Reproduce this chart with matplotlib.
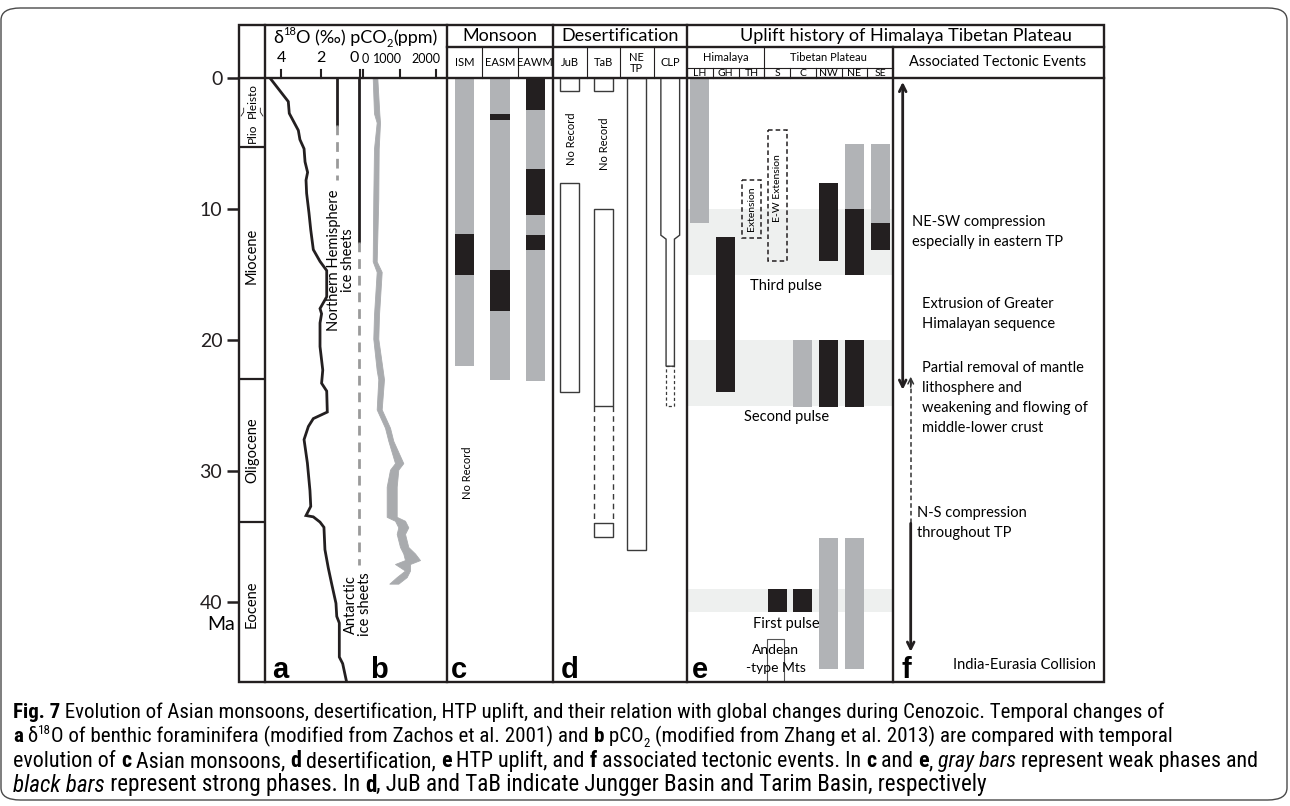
import matplotlib

matplotlib.use("Agg")
import matplotlib.pyplot as plt
from matplotlib import font_manager
from matplotlib.font_manager import FontProperties
from matplotlib.patches import Rectangle, FancyBboxPatch, Polygon


W, H = 1290, 806
TOP, BOTTOM = 78, 682
PX_PER_MA = 13.1
AGE_MAX = (BOTTOM - TOP) / PX_PER_MA

# ---- time scale ----
AGE_TICKS = [0, 10, 20, 30, 40]
EPOCH_BOUNDS = [5.3, 23.0, 33.9]
EPOCH_NAMES = ["Miocene", "Oligocene", "Eocene"]
EPOCH_LABEL_AGES = [13.6, 28.4, 40.2]

# ---- panel a: benthic d18O (per mil) ----
D18O_AGE = [0.0, 1.8, 2.7, 4.0, 4.7, 5.4, 6.4, 7.2, 7.8, 8.8, 10.3, 11.6, 13.1, 14.0,
            14.7, 16.7, 17.6, 18.0, 18.7, 20.5, 22.3, 23.3, 23.9, 25.5, 26.0, 26.6,
            27.6, 29.4, 31.5, 32.7, 33.4, 33.5, 33.9, 34.3, 36.0, 37.4, 38.6, 40.1,
            41.1, 41.6, 44.2, 44.7, 46.1]
D18O_VAL = [4.57, 3.64, 3.59, 3.13, 3.05, 2.84, 2.79, 2.66, 2.74, 2.71, 2.59, 2.50,
            2.37, 2.03, 1.69, 1.69, 2.03, 1.95, 2.03, 2.03, 1.89, 1.95, 1.69, 1.66,
            2.37, 2.62, 2.84, 2.67, 2.54, 2.50, 2.74, 2.37, 2.03, 1.83, 1.78, 1.61,
            1.44, 1.22, 1.18, 1.05, 1.05, 0.88, 0.68]
D18O_TICKS = [4, 2, 0]
NH_ICE = (1.17, 3.6, 7.8)        # d18O position, solid until, dashed until (Ma)
ANT_ICE = (0.05, 12.5, 37.2)

# ---- panel b: pCO2 (ppm) band ----
PCO2_AGE = [0.0, 2.7, 3.4, 5.4, 9.2, 14.0, 14.8, 18.1, 19.9, 22.3, 23.0, 25.3, 26.7,
            27.7, 29.4, 29.9, 31.2, 33.5, 33.8, 34.3, 34.8, 35.8, 36.3, 36.8, 37.1,
            37.6, 38.1, 38.6]
PCO2_LOW = [266, 301, 375, 301, 282, 266, 375, 301, 282, 375, 419, 375, 603, 694,
            877, 740, 649, 649, 877, 967, 923, 1014, 1104, 1151, 877, 1151, 923, 721]
PCO2_HIGH = [392, 447, 466, 430, 419, 375, 512, 438, 419, 540, 575, 512, 740, 830,
             1104, 967, 923, 923, 1151, 1241, 1151, 1241, 1425, 1562, 1288, 1288,
             1197, 967]
PCO2_TICKS = [0, 1000, 2000]

# ---- panel c: monsoons ----
MONSOON_COLS = ["ISM", "EASM", "EAWM"]
MONSOON_WEAK = [("ISM", 0, 22.0), ("EASM", 0, 23.05), ("EAWM", 0, 23.1)]
MONSOON_STRONG = [("ISM", 11.9, 15.0), ("EASM", 2.75, 3.2), ("EASM", 14.65, 17.75),
                  ("EAWM", 0, 2.45), ("EAWM", 6.95, 10.45), ("EAWM", 12.0, 13.1)]

# ---- panel d: desertification ----
DESERT_COLS = ["JuB", "TaB", "NE\nTP", "CLP"]
DESERT_RECORD = [("JuB", 0, 1.0), ("JuB", 8.05, 24.0), ("TaB", 0, 1.0),
                 ("TaB", 10.0, 25.0), ("TaB", 34.0, 35.0), ("NE\nTP", 0, 36.0)]
DESERT_UNCERTAIN_SIDES = [("TaB", 25.0, 34.0)]
DESERT_UNCERTAIN_BOX = [("CLP", 22.0, 25.0)]
CLP_WIDE = (0, 12.0)
CLP_NARROW = (12.3, 22.0)
NO_RECORD_D = [("JuB", 4.6), ("TaB", 5.0)]

# ---- panel e: uplift ----
UPLIFT_COLS = ["LH", "GH", "TH", "S", "C", "NW", "NE", "SE"]
UPLIFT_WEAK = [("LH", 0, 11.05), ("C", 20.0, 25.1), ("NW", 35.1, 45.1),
               ("NE", 5.0, 10.0), ("NE", 35.1, 45.1), ("SE", 5.0, 11.1)]
UPLIFT_STRONG = [("GH", 12.1, 24.0), ("NW", 8.0, 14.0), ("NW", 20.0, 25.1),
                 ("NE", 10.0, 15.05), ("NE", 20.0, 25.1), ("SE", 11.1, 13.1),
                 ("S", 39.0, 40.8), ("C", 39.0, 40.8)]
EXTENSIONS = [("TH", 7.8, 12.2, "Extension", 10.0), ("S", 4.0, 14.0, "E-W Extension", 8.4)]
PULSES = [(10.0, 15.0, "Third pulse"), (20.0, 25.0, "Second pulse"), (39.0, 40.8, "First pulse")]
ANDEAN = (42.8, AGE_MAX)

# ---- panel f: tectonic events ----
NESW_ARROW = (0.3, 23.8)
NS_ARROW = (22.8, 34.0, 43.8)   # head up, dashed until, head down
EVENT_TEXTS = [
    (11.0, 911.7, ["NE-SW compression", "especially in eastern TP"]),
    (17.25, 922.3, ["Extrusion of Greater", "Himalayan sequence"]),
    (22.1, 922.3, ["Partial removal of mantle", "lithosphere and",
                   "weakening and flowing of", "middle-lower crust"]),
    (33.2, 917.3, ["N-S compression", "throughout TP"]),
]

GRAY_BAR = "#b1b3b6"
BLACK_BAR = "#231f20"
BAND = "#eef0ef"
PCO2_COLOR = "#a9abae"
LINE = "#231f20"

BODY = ["Lato", "DejaVu Sans"]
LETTER = ["Liberation Sans", "DejaVu Sans"]

# caption: a condensed face if one is installed
entries = font_manager.fontManager.ttflist
CAP_FONT, CAP_STRETCH = "Roboto", "normal"
for name in ["Liberation Sans Narrow", "Roboto Condensed", "Noto Sans", "Open Sans",
             "Roboto", "DejaVu Sans", "Liberation Sans"]:
    hit = [f for f in entries if f.name == name and "condensed" in str(f.stretch)]
    if hit:
        CAP_FONT, CAP_STRETCH = name, hit[0].stretch
        break
    if name == "Liberation Sans Narrow" and any(f.name == name for f in entries):
        CAP_FONT, CAP_STRETCH = name, "normal"
        break
CAPTION = [CAP_FONT, "DejaVu Sans"]

plt.rcParams["font.family"] = BODY

fig = plt.figure(figsize=(W / 100, H / 100), dpi=100)
fig.patch.set_facecolor("white")


def fx(px):
    return px / W


def fy(py):
    return 1 - py / H


def panel_ax(x0, x1, xlim, zorder=2):
    ax = fig.add_axes([fx(x0), fy(BOTTOM), fx(x1) - fx(x0), (BOTTOM - TOP) / H], zorder=zorder)
    ax.set_xlim(*xlim)
    ax.set_ylim(AGE_MAX, 0)
    ax.axis("off")
    return ax


# ---- rounded outer frame ----
fig.patches.append(FancyBboxPatch((fx(1), fy(800)), fx(1287) - fx(1), fy(8) - fy(800),
                                  boxstyle="round,pad=0,rounding_size=0.015",
                                  transform=fig.transFigure, fill=False,
                                  ec="#4a4a4a", lw=1.0))

# ---- epoch column ----
ax_ep = panel_ax(239, 265, (0, 1))
ax_ep.axis("on")
for s in ax_ep.spines.values():
    s.set_visible(False)
ax_ep.set_xticks([])
ax_ep.set_yticks(AGE_TICKS)
ax_ep.tick_params(axis="y", direction="out", length=9, width=1.8, labelsize=14, pad=3,
                  color=LINE, labelcolor="#231f20")
ax_ep.patch.set_visible(False)
for b in EPOCH_BOUNDS:
    ax_ep.axhline(b, color=LINE, lw=1.6)
for name, age in zip(EPOCH_NAMES, EPOCH_LABEL_AGES):
    ax_ep.text(0.5, age, name, rotation=90, ha="center", va="center", fontsize=10.5)
ax_ep.text(0.5, 1.7, "Pleisto", rotation=90, ha="center", va="center", fontsize=8.5)
ax_ep.text(0.5, 4.2, "Plio", rotation=90, ha="center", va="center", fontsize=8.5)
ax_ep.plot([0.08, 0.18, 0.18], [2.9, 2.6, 2.3], color=LINE, lw=0.6)
ax_ep.plot([0.92, 0.82, 0.82], [2.9, 2.6, 2.3], color=LINE, lw=0.6)
fig.text(fx(221), fy(625), "Ma", ha="center", va="center", fontsize=14)

# ---- panel a ----
ax_a = panel_ax(265, 447, ((360 - 265) / 19.7, (360 - 447) / 19.7), zorder=3)
ax_a.plot(D18O_VAL, D18O_AGE, color=LINE, lw=2.0, solid_joinstyle="miter")
for pos, solid_to, dash_to in (NH_ICE, ANT_ICE):
    ax_a.plot([pos, pos], [0, solid_to], color=LINE, lw=2.0)
    ax_a.plot([pos, pos], [solid_to, dash_to], color="#9a9a9a", lw=2.0, ls=(0, (3.5, 2.5)))
ax_a.text(0.96, 13.9, "Northern Hemisphere\nice sheets", rotation=90, ha="center",
          va="center", multialignment="center", fontsize=10.5, linespacing=1.0)
ax_a.text(0.1, 40.2, "Antarctic\nice sheets", rotation=90, ha="center", va="center",
          multialignment="center", fontsize=10.5, linespacing=1.0)

# ---- panel b ----
ax_b = panel_ax(265, 447, ((265 - 363) / 36.5 * 1000, (447 - 363) / 36.5 * 1000))
ax_b.fill_betweenx(PCO2_AGE, PCO2_LOW, PCO2_HIGH, color=PCO2_COLOR, lw=0.6, ec=PCO2_COLOR)

# header ticks for a / b
ta = matplotlib.transforms.blended_transform_factory(ax_a.transData, fig.transFigure)
tb = matplotlib.transforms.blended_transform_factory(ax_b.transData, fig.transFigure)
for v in D18O_TICKS:
    ax_a.plot([v, v], [fy(70), fy(78)], transform=ta, color=LINE, lw=1.5, clip_on=False)
    ax_a.text(v + (0.05 if v == 0 else 0), fy(58), str(v), transform=ta,
              ha="right" if v == 0 else "center", va="center", fontsize=11.5)
for v in PCO2_TICKS:
    ax_b.plot([v, v], [fy(70), fy(78)], transform=tb, color=LINE, lw=1.5, clip_on=False)
    if v == 0:
        ax_b.text(v - 30, fy(59), str(v), transform=tb, ha="left", va="center", fontsize=9)
    else:
        ax_b.text(v + (70 if v == 1000 else 130), fy(59), str(v), transform=tb, ha="right",
                  va="center", fontsize=9)

# ---- panel c ----
ax_c = panel_ax(447, 553, (0, len(MONSOON_COLS)))
for phases, color in ((MONSOON_WEAK, GRAY_BAR), (MONSOON_STRONG, BLACK_BAR)):
    for col, a0, a1 in phases:
        i = MONSOON_COLS.index(col)
        ax_c.bar(i + 0.5, a1 - a0, bottom=a0, width=0.54, color=color, lw=0)
ax_c.text(0.57, 30.1, "No Record", rotation=90, ha="center", va="center", fontsize=8)

# ---- panel d ----
ax_d = panel_ax(553, 687, (0, len(DESERT_COLS)))
BW = 0.56
for col, a0, a1 in DESERT_RECORD:
    i = DESERT_COLS.index(col)
    ax_d.add_patch(Rectangle((i + 0.5 - BW / 2, a0), BW, a1 - a0, fill=False, ec="#3a3a3a", lw=1.0))
for col, a0, a1 in DESERT_UNCERTAIN_SIDES:
    i = DESERT_COLS.index(col)
    for x in (i + 0.5 - BW / 2, i + 0.5 + BW / 2):
        ax_d.plot([x, x], [a0, a1], color="#3a3a3a", lw=1.0, ls=(0, (4, 3)))
for col, a0, a1 in DESERT_UNCERTAIN_BOX:
    i = DESERT_COLS.index(col)
    ax_d.add_patch(Rectangle((i + 0.5 - 0.125, a0), 0.25, a1 - a0, fill=False, ec="#3a3a3a",
                             lw=0.9, ls=(0, (2.5, 2))))
ci = DESERT_COLS.index("CLP") + 0.5
ax_d.add_patch(Polygon([(ci - BW / 2, CLP_WIDE[0]), (ci - BW / 2, CLP_WIDE[1]),
                        (ci - 0.125, CLP_NARROW[0]), (ci - 0.125, CLP_NARROW[1]),
                        (ci + 0.125, CLP_NARROW[1]), (ci + 0.125, CLP_NARROW[0]),
                        (ci + BW / 2, CLP_WIDE[1]), (ci + BW / 2, CLP_WIDE[0])],
                       closed=False, fill=False, ec="#3a3a3a", lw=1.0))
for col, age in NO_RECORD_D:
    ax_d.text(DESERT_COLS.index(col) + 0.55, age, "No Record", rotation=90, ha="center",
              va="center", fontsize=8)

# ---- panel e ----
ax_e = panel_ax(687, 893, (0, len(UPLIFT_COLS)))
EW = 0.74
for a0, a1, label in PULSES:
    ax_e.axhspan(a0, a1, color=BAND, lw=0, zorder=0)
    ax_e.text(3.85, a1 + 0.9, label, ha="center", va="center", fontsize=10.5, zorder=3)
for phases, color in ((UPLIFT_WEAK, GRAY_BAR), (UPLIFT_STRONG, BLACK_BAR)):
    for col, a0, a1 in phases:
        i = UPLIFT_COLS.index(col)
        ax_e.bar(i + 0.5, a1 - a0, bottom=a0, width=EW, color=color, lw=0, zorder=2)
for col, a0, a1, label, tage in EXTENSIONS:
    i = UPLIFT_COLS.index(col)
    ax_e.add_patch(Rectangle((i + 0.5 - EW / 2, a0), EW, a1 - a0, fill=False, ec=LINE,
                             lw=1.1, ls=(0, (3, 2)), zorder=2))
    ax_e.text(i + 0.5, tage, label, rotation=90, ha="center", va="center", fontsize=7.5)
si = UPLIFT_COLS.index("S")
ax_e.add_patch(Rectangle((si + 0.45 - 0.33, ANDEAN[0]), 0.66, ANDEAN[1] - ANDEAN[0],
                         fill=False, ec="#555555", lw=0.8, zorder=2))
ax_e.text(si + 0.45, 43.7, "Andean", ha="center", va="center", fontsize=10, zorder=3)
ax_e.text(si + 0.45, 45.0, "-type Mts", ha="center", va="center", fontsize=10, zorder=3)

# ---- panel f ----
ax_f = panel_ax(893, 1104, (893, 1104))
ax_f.annotate("", xy=(902.7, NESW_ARROW[0]), xytext=(902.7, NESW_ARROW[1]),
              arrowprops=dict(arrowstyle="<->", lw=2.0, color=LINE, mutation_scale=12,
                              shrinkA=0, shrinkB=0))
ax_f.plot([910.7, 910.7], [NS_ARROW[0] + 0.3, NS_ARROW[1]], color="#333333", lw=1.1,
          ls=(0, (3, 2)))
ax_f.annotate("", xy=(910.7, NS_ARROW[0]), xytext=(910.7, NS_ARROW[0] + 0.8),
              arrowprops=dict(arrowstyle="->", lw=1.1, color="#333333", mutation_scale=10,
                              shrinkA=0, shrinkB=0))
ax_f.annotate("", xy=(910.7, NS_ARROW[2]), xytext=(910.7, NS_ARROW[1]),
              arrowprops=dict(arrowstyle="->", lw=2.0, color=LINE, mutation_scale=12,
                              shrinkA=0, shrinkB=0))
for age0, xpx, lines in EVENT_TEXTS:
    for k, line in enumerate(lines):
        ax_f.text(xpx, age0 + k * 1.53, line, ha="left", va="center", fontsize=10.5)
ax_f.text(1096, 44.8, "India-Eurasia Collision", ha="right", va="center", fontsize=10.5)

# ---- panel letters ----
for letter, xpx in zip("abcdef", [280.5, 379, 459, 570, 700, 906]):
    fig.text(fx(xpx), fy(678), letter, ha="center", va="baseline", fontsize=21,
             fontweight="bold", family=LETTER)

# ---- frame lines and headers ----
fr = fig.add_axes([0, 0, 1, 1], zorder=10)
fr.set_xlim(0, W)
fr.set_ylim(H, 0)
fr.axis("off")
THICK, THIN = 1.7, 0.8
fr.add_patch(Rectangle((239, 25), 1104 - 239, BOTTOM - 25, fill=False, ec=LINE, lw=THICK))
for x in (265, 447, 553, 687):
    fr.plot([x, x], [25, BOTTOM], color=LINE, lw=THICK)
fr.plot([893, 893], [47, BOTTOM], color=LINE, lw=THICK)
fr.plot([447, 1104], [47, 47], color=LINE, lw=THICK)
fr.plot([239, 1104], [TOP, TOP], color=LINE, lw=THICK)
for i in range(1, 3):
    x = 447 + i * 106 / 3
    fr.plot([x, x], [47, TOP], color=LINE, lw=THIN)
for i in range(1, 4):
    x = 553 + i * 134 / 4
    fr.plot([x, x], [47, TOP], color=LINE, lw=THIN)
fr.plot([687, 893], [68, 68], color=LINE, lw=THIN)
fr.plot([687 + 3 * 25.75] * 2, [47, TOP], color=LINE, lw=THIN)
for i in range(1, 8):
    x = 687 + i * 25.75
    fr.plot([x, x], [68, TOP], color=LINE, lw=THIN)

fr.text(500, 36, "Monsoon", ha="center", va="center", fontsize=13)
fr.text(620, 36, "Desertification", ha="center", va="center", fontsize=13)
fr.text(906, 36, "Uplift history of Himalaya Tibetan Plateau", ha="center", va="center",
        fontsize=13)
fr.text(998, 62, "Associated Tectonic Events", ha="center", va="center", fontsize=10.5)
for i, name in enumerate(MONSOON_COLS):
    fr.text(447 + (i + 0.5) * 106 / 3, 63, name, ha="center", va="center", fontsize=8)
for i, name in enumerate(DESERT_COLS):
    fr.text(553 + (i + 0.5) * 33.5, 63, name, ha="center", va="center", fontsize=8,
            linespacing=1.0)
fr.text(687 + 1.5 * 25.75, 57.5, "Himalaya", ha="center", va="center", fontsize=8)
fr.text(687 + 5.5 * 25.75, 57.5, "Tibetan Plateau", ha="center", va="center", fontsize=8)
for i, name in enumerate(UPLIFT_COLS):
    fr.text(687 + (i + 0.5) * 25.75, 74, name, ha="center", va="center", fontsize=7.5)

renderer = fig.canvas.get_renderer()


def advance(s, fp):
    w1, _, _ = renderer.get_text_width_height_descent("|" + s + "|", fp, ismath=False)
    w0, _, _ = renderer.get_text_width_height_descent("||", fp, ismath=False)
    return w1 - w0


def props(style, size, family, stretch="normal"):
    if style == "b":
        return FontProperties(family=family, size=size, weight="bold", stretch=stretch)
    if style == "i":
        return FontProperties(family=family, size=size, style="italic", stretch=stretch)
    if style in ("sup", "sub"):
        return FontProperties(family=family, size=size * 0.62, stretch=stretch)
    return FontProperties(family=family, size=size, stretch=stretch)


def line_width(parts, size, family, stretch="normal"):
    return sum(advance(s, props(st, size, family, stretch)) for s, st in parts)


def rich_line(x_px, y_px, parts, size, family, stretch="normal"):
    x = x_px
    for s, st in parts:
        fp = props(st, size, family, stretch)
        y = y_px
        if st == "sup":
            y -= size * 1.389 * 0.42
        elif st == "sub":
            y += size * 1.389 * 0.2
        fig.text(fx(x), fy(y), s, ha="left", va="baseline", fontproperties=fp)
        x += advance(s, fp)


rich_line(273, 43, [("δ", "r"), ("18", "sup"), ("O (‰) pCO", "r"), ("2", "sub"), ("(ppm)", "r")],
          13, BODY)

CAPTION_LINES = [
    [("Fig. 7", "b"), (" Evolution of Asian monsoons, desertification, HTP uplift, and their relation "
                       "with global changes during Cenozoic. Temporal changes of", "r")],
    [("a", "b"), (" δ", "r"), ("18", "sup"), ("O of benthic foraminifera (modified from Zachos et al. "
                                           "2001) and ", "r"), ("b", "b"), (" pCO", "r"),
     ("2", "sub"), (" (modified from Zhang et al. 2013) are compared with temporal", "r")],
    [("evolution of ", "r"), ("c", "b"), (" Asian monsoons, ", "r"), ("d", "b"),
     (" desertification, ", "r"), ("e", "b"), (" HTP uplift, and ", "r"), ("f", "b"),
     (" associated tectonic events. In ", "r"), ("c", "b"), (" and ", "r"), ("e", "b"),
     (", ", "r"), ("gray bars", "i"), (" represent weak phases and", "r")],
    [("black bars", "i"), (" represent strong phases. In ", "r"), ("d", "b"),
     (", JuB and TaB indicate Jungger Basin and Tarim Basin, respectively", "r")],
]
CAPTION_WIDTHS = [1152, 1155, 1250, 972]
base = 12.0
for k, (parts, target) in enumerate(zip(CAPTION_LINES, CAPTION_WIDTHS)):
    size = base * target / line_width(parts, base, CAPTION, CAP_STRETCH)
    rich_line(13, 718 + k * 24.5, parts, size, CAPTION, CAP_STRETCH)

fig.savefig("out.png", dpi=100, facecolor="white")
